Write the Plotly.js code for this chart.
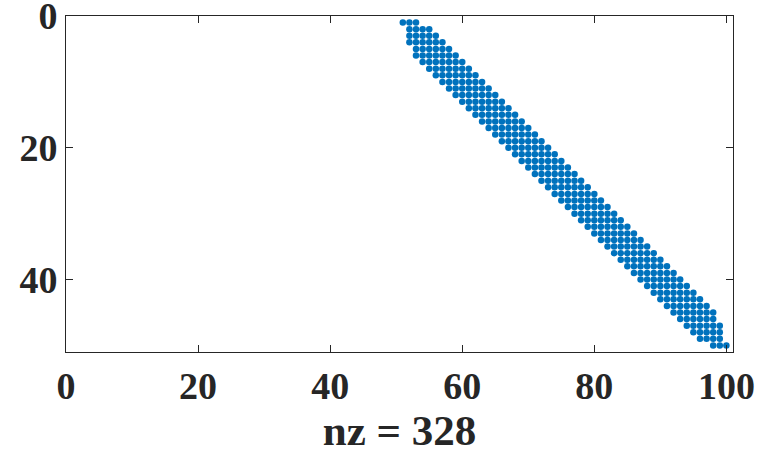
<!DOCTYPE html>
<html>
<head>
<meta charset="utf-8">
<script src="https://cdn.plot.ly/plotly-3.0.1.min.js"></script>
<style>html,body{margin:0;padding:0;background:#fff;}#plot{width:759px;height:457px;}</style>
</head>
<body>
<div id="plot"></div>
<script>
// Sparsity pattern of a 50 x 100 matrix (MATLAB spy): per row, first and last nonzero column
const rowIndex = [1,2,3,4,5,6,7,8,9,10,11,12,13,14,15,16,17,18,19,20,21,22,23,24,25,26,27,28,29,30,31,32,33,34,35,36,37,38,39,40,41,42,43,44,45,46,47,48,49,50];
const rowStart = [51,52,52,52,53,53,54,55,56,57,58,59,60,61,62,63,64,65,66,67,68,69,70,71,72,73,74,75,76,77,78,79,80,81,82,83,84,85,86,87,88,89,90,91,92,93,94,95,96,98];
const rowEnd   = [53,55,56,57,58,59,60,61,62,63,64,65,66,67,68,69,70,71,72,73,74,75,76,77,78,79,80,81,82,83,84,85,86,87,88,89,90,91,92,93,94,95,96,97,98,98,99,99,99,100];
const xTicks = [0,20,40,60,80,100];
const yTicks = [0,20,40];
const nRows = 50, nCols = 100;

const xs = [], ys = [];
rowIndex.forEach((r, k) => {
  for (let c = rowStart[k]; c <= rowEnd[k]; c++) { xs.push(c); ys.push(r); }
});
const nz = xs.length;

const fam = 'Liberation Serif, Times New Roman, serif';
const tickFont = {family: fam, size: 38, color: '#262626', weight: 'bold'};
const labelFont = {family: fam, size: 43, color: '#262626', weight: 'bold'};

Plotly.newPlot('plot', [{
  type: 'scatter', mode: 'markers', x: xs, y: ys,
  marker: {color: '#0072BD', size: 6.5, line: {width: 0}},
  hoverinfo: 'none', showlegend: false, cliponaxis: false
}], {
  width: 759, height: 457,
  margin: {l: 66, r: 26, t: 16, b: 105, pad: 0},
  paper_bgcolor: '#fff', plot_bgcolor: '#fff',
  xaxis: {
    range: [-0.0001, nCols + 1], tickvals: xTicks, ticktext: xTicks.map(String),
    ticks: 'inside', ticklen: 7, tickwidth: 1, tickcolor: '#262626',
    showline: true, linecolor: '#262626', linewidth: 1, mirror: 'ticks',
    showgrid: false, zeroline: false, tickfont: tickFont, ticklabeloverflow: 'allow',
    title: {text: 'nz = ' + nz, font: labelFont, standoff: 8}
  },
  yaxis: {
    range: [nRows + 1, -0.0001], tickvals: yTicks, ticktext: yTicks.map(String),
    ticks: 'inside', ticklen: 7, tickwidth: 1, tickcolor: '#262626',
    showline: true, linecolor: '#262626', linewidth: 1, mirror: 'ticks',
    showgrid: false, zeroline: false, tickfont: tickFont, ticklabeloverflow: 'allow'
  }
}, {staticPlot: true, displayModeBar: false});
</script>
</body>
</html>
